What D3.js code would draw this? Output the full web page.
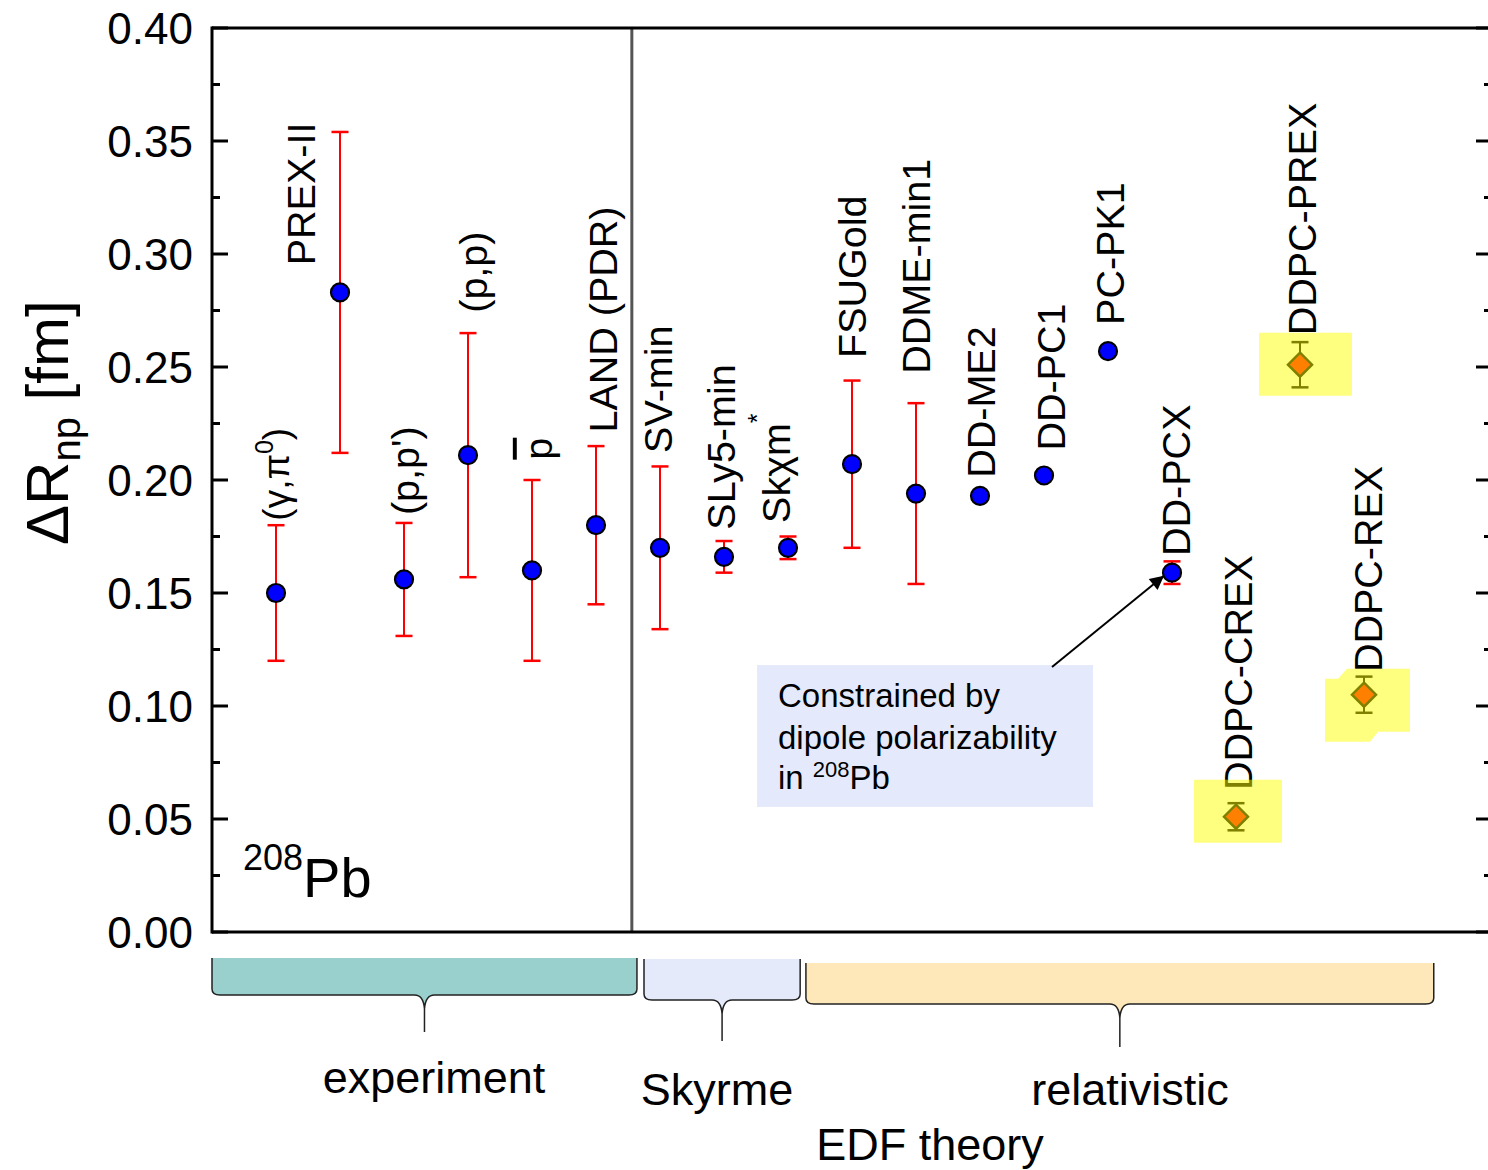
<!DOCTYPE html>
<html><head><meta charset="utf-8">
<script src="https://cdn.jsdelivr.net/npm/d3@7"></script>
<style>html,body{margin:0;padding:0;background:#fff;}svg{display:block;font-family:"Liberation Sans",Arial,sans-serif;}</style>
</head><body><svg id="c" width="1488" height="1170"></svg>
<script>
// ---------- data ----------
const categories = ["(γ,π0)","PREX-II","(p,p')","(p,p)","p̄","LAND (PDR)","SV-min","SLy5-min","Skχm*","FSUGold","DDME-min1","DD-ME2","DD-PC1","PC-PK1","DD-PCX","DDPC-CREX","DDPC-PREX","DDPC-REX"];
const xIndex = [1,2,3,4,5,6,7,8,9,10,11,12,13,14,15,16,17,18];
const values = [0.150,0.283,0.156,0.211,0.160,0.180,0.170,0.166,0.170,0.207,0.194,0.193,0.202,0.257,0.159,0.051,0.251,0.105];
const errors = [0.030,0.071,0.025,0.054,0.040,0.035,0.036,0.007,0.005,0.037,0.040,0,0,0,0.005,0.006,0.010,0.008];
const markerKind = ["c","c","c","c","c","c","c","c","c","c","c","c","c","c","c","d","d","d"];
// label anchor (x in category units, y = data value where rotated label starts)
const labelX = [1.21,1.61,3.23,4.30,5.31,6.33,7.19,8.17,9.03,10.22,11.22,12.23,13.33,14.25,15.28,16.25,17.25,18.28];
const labelY = [0.182,0.295,0.1845,0.274,0.209,0.221,0.212,0.178,0.181,0.254,0.247,0.201,0.213,0.2686,0.1664,0.0628,0.264,0.115];
const yTicks = [0.00,0.05,0.10,0.15,0.20,0.25,0.30,0.35,0.40];
const yMinor = [0.025,0.075,0.125,0.175,0.225,0.275,0.325,0.375];
const dividerX = 6.56;
const groups = ["experiment","Skyrme","relativistic"];
const groupStart = [0.0,6.75,9.28];
const groupEnd = [6.64,9.19,19.09];
const groupFill = ["#99cfcd","#e5eafb","#fee8b9"];
const groupText = ["EDF theory"];

// ---------- layout ----------
const svg = d3.select("#c");
const x = d3.scaleLinear().domain([0,20]).range([212,1492]);
const y = d3.scaleLinear().domain([0,0.4]).range([932,28]);

// divider
svg.append("line").attr("x1",x(dividerX)).attr("x2",x(dividerX)).attr("y1",y(0.4)).attr("y2",y(0))
  .attr("stroke","#555").attr("stroke-width",3);

// annotation box
svg.append("rect").attr("x",757).attr("y",665).attr("width",336).attr("height",142).attr("fill","#e4eafb");
const ann = svg.append("text").attr("font-size",33).attr("fill","#000");
ann.append("tspan").attr("x",778).attr("y",707).text("Constrained by");
ann.append("tspan").attr("x",778).attr("y",749).text("dipole polarizability");
ann.append("tspan").attr("x",778).attr("y",789).text("in ");
ann.append("tspan").attr("font-size",22).attr("dy",-12).text("208");
ann.append("tspan").attr("dy",12).text("Pb");
// arrow
svg.append("defs").append("marker").attr("id","ah").attr("viewBox","0 0 10 10").attr("refX",10).attr("refY",5)
  .attr("markerUnits","userSpaceOnUse").attr("orient","auto")
  .attr("markerWidth",18).attr("markerHeight",14)
  .append("path").attr("d","M0,0 L10,5 L0,10 Z").attr("fill","#000");
svg.append("line").attr("x1",1052).attr("y1",667).attr("x2",x(15)-8).attr("y2",y(values[14])+3)
  .attr("stroke","#000").attr("stroke-width",2).attr("marker-end","url(#ah)");

// labels
function addLabel(i){
  const g = svg.append("text").attr("font-size",39.5).attr("fill","#000")
    .attr("transform",`translate(${x(labelX[i])},${y(labelY[i])}) rotate(-90)`);
  const name = categories[i];
  if(i===0){
    g.attr("font-size",37);
    g.append("tspan").text("(γ,π");
    g.append("tspan").attr("font-size",25).attr("dy",-16).text("0");
    g.append("tspan").attr("dy",16).text(")");
  } else if(i===4){
    g.append("tspan").attr("text-decoration","overline").text("p");
  } else if(i===8){
    g.append("tspan").text("Skχm");
    g.append("tspan").attr("font-size",25).attr("dy",-24).text("*");
  } else {
    g.text(name);
  }
}
categories.forEach((c,i)=>addLabel(i));

// highlight boxes (drawn over labels, semi-transparent)
const hl = svg.append("g").attr("fill","#ffff00").attr("fill-opacity",0.5);
function hx(i){return x(xIndex[i]);} function hy(i){return y(values[i]);}
hl.append("rect").attr("x",hx(15)-42).attr("y",hy(15)-37).attr("width",88).attr("height",63);
hl.append("rect").attr("x",hx(16)-41).attr("y",hy(16)-32).attr("width",93).attr("height",63);
{
  const cx=hx(17), cy=hy(17);
  const pts=[[-39,-16],[-26,-16],[-17,-26],[46,-26],[46,37],[14,37],[6,47],[-39,47]];
  hl.append("path").attr("d","M"+pts.map(p=>(cx+p[0])+","+(cy+p[1])).join("L")+"Z");
}

// error bars
const eb = svg.append("g");
values.forEach((v,i)=>{
  if(!errors[i]) return;
  const col = markerKind[i]==="c" ? "#ff0000" : "#808000";
  const cx = x(xIndex[i]), y1=y(v+errors[i]), y2=y(v-errors[i]);
  eb.append("line").attr("x1",cx).attr("x2",cx).attr("y1",y1).attr("y2",y2).attr("stroke",col).attr("stroke-width",2);
  [y1,y2].forEach(yy=>eb.append("line").attr("x1",cx-8.5).attr("x2",cx+8.5).attr("y1",yy).attr("y2",yy).attr("stroke",col).attr("stroke-width",2.5));
});

// markers
values.forEach((v,i)=>{
  const cx=x(xIndex[i]), cy=y(v);
  if(markerKind[i]==="c"){
    svg.append("circle").attr("cx",cx).attr("cy",cy).attr("r",9).attr("fill","#0000ff").attr("stroke","#000").attr("stroke-width",2.2);
  } else {
    const s=12;
    svg.append("path").attr("d",`M${cx},${cy-s}L${cx+s},${cy}L${cx},${cy+s}L${cx-s},${cy}Z`)
      .attr("fill","#ff8000").attr("stroke","#808000").attr("stroke-width",2.5);
  }
});

// axes frame
const fr = svg.append("g").attr("stroke","#000").attr("stroke-width",3);
fr.append("line").attr("x1",x(0)).attr("x2",x(0)).attr("y1",y(0.4)-1.5).attr("y2",y(0)+1.5);
fr.append("line").attr("x1",x(20)).attr("x2",x(20)).attr("y1",y(0.4)).attr("y2",y(0));
fr.append("line").attr("x1",x(0)).attr("x2",x(20)).attr("y1",y(0.4)).attr("y2",y(0.4));
fr.append("line").attr("x1",x(0)).attr("x2",x(20)).attr("y1",y(0)).attr("y2",y(0));
yTicks.forEach(t=>{
  fr.append("line").attr("x1",x(0)).attr("x2",x(0)+16).attr("y1",y(t)).attr("y2",y(t));
  fr.append("line").attr("x1",x(20)).attr("x2",x(20)-16).attr("y1",y(t)).attr("y2",y(t));
});
yMinor.forEach(t=>{
  fr.append("line").attr("x1",x(0)).attr("x2",x(0)+8).attr("y1",y(t)).attr("y2",y(t));
  fr.append("line").attr("x1",x(20)).attr("x2",x(20)-8).attr("y1",y(t)).attr("y2",y(t));
});
// tick labels
svg.append("g").selectAll("text").data(yTicks).join("text")
  .attr("x",193).attr("y",d=>y(d)).attr("dy","0.36em").attr("text-anchor","end")
  .attr("font-size",44).text(d=>d3.format(".2f")(d));

// y title
const yt = svg.append("text").attr("font-size",60).attr("transform","translate(68,545) rotate(-90)");
yt.append("tspan").text("ΔR");
yt.append("tspan").attr("font-size",40).attr("dy",12).text("np");
yt.append("tspan").attr("dy",-12).text(" [fm]");

// 208Pb
const pb = svg.append("text").attr("x",243).attr("y",897).attr("font-size",56);
pb.append("tspan").attr("font-size",36).attr("dy",-27).text("208");
pb.append("tspan").attr("dy",27).text("Pb");

// braces
const braceTop=[958,959,963], braceBot=[995,1000,1004], braceTip=[1032,1041,1047];
groups.forEach((gname,i)=>{
  const x0=x(groupStart[i]), x1=x(groupEnd[i]), xc=(x0+x1)/2;
  const t=braceTop[i], b=braceBot[i], tip=braceTip[i], r=6;
  const d=`M${x0},${t}L${x0},${b-r}Q${x0},${b} ${x0+r+2},${b}L${xc-10},${b}Q${xc-1},${b} ${xc},${b+14}L${xc},${tip}L${xc},${b+14}Q${xc+1},${b} ${xc+10},${b}L${x1-r-2},${b}Q${x1},${b} ${x1},${b-r}L${x1},${t}`;
  svg.append("path").attr("d",d+"Z").attr("fill",groupFill[i]).attr("stroke","none");
  svg.append("path").attr("d",d).attr("fill","none").attr("stroke","#222").attr("stroke-width",1.5);
});
const gText=[[434,1093],[717,1105],[1130,1105]];
groups.forEach((g,i)=>svg.append("text").attr("x",gText[i][0]).attr("y",gText[i][1]).attr("text-anchor","middle").attr("font-size",45).text(g));
svg.append("text").attr("x",930).attr("y",1160).attr("text-anchor","middle").attr("font-size",45).text(groupText[0]);
</script></body></html>
